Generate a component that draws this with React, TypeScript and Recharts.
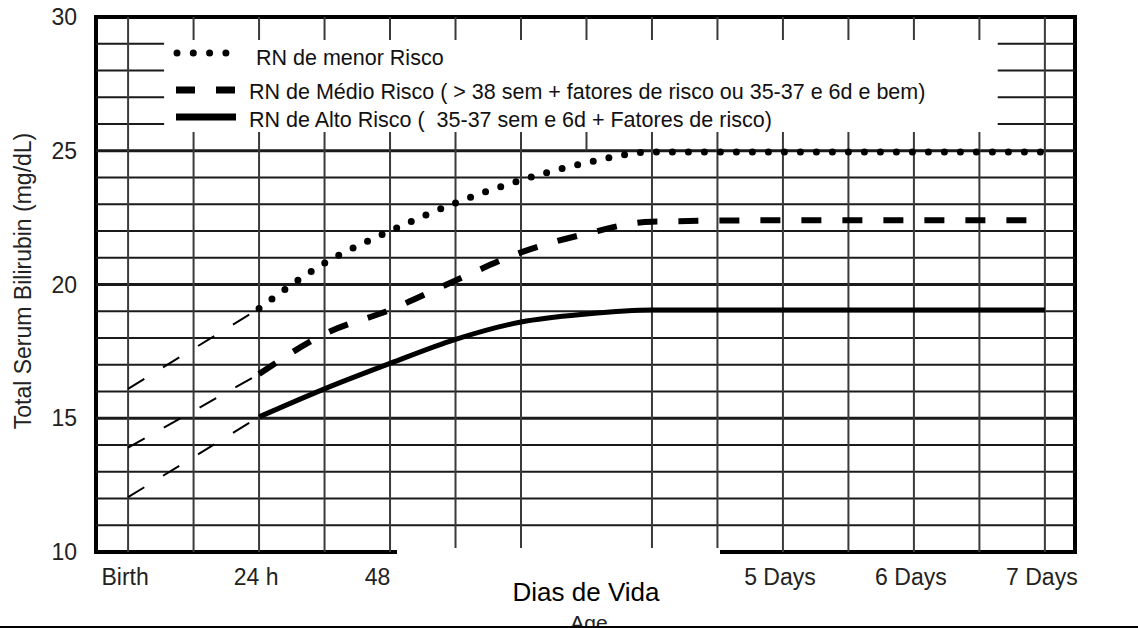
import { LineChart, Line, XAxis, YAxis, ReferenceLine, ReferenceArea } from "recharts";

const FONT = "'Liberation Sans', Arial, Helvetica, sans-serif";

const X_MIN = -0.245;
const X_MAX = 7.23;

// bilirubin curves, mg/dL by day of life
const days = [1, 1.5, 2, 2.5, 3, 3.5, 4, 5, 6, 7];
const lowRisk = [19.1, 20.8, 22.0, 23.05, 23.9, 24.55, 24.95, 24.95, 24.95, 24.95];
const mediumRisk = [16.65, 18.15, 19.05, 20.15, 21.2, 21.9, 22.35, 22.4, 22.4, 22.4];
const highRisk = [15.05, 16.1, 17.05, 17.95, 18.6, 18.9, 19.05, 19.05, 19.05, 19.05];

// thin dashed part, birth -> 24 h
const birthDays = [0, 1];
const lowBirth = [16.1, 19.1];
const mediumBirth = [13.9, 16.65];
const highBirth = [12.05, 15.05];

const xTicks = [0, 1, 2, 5, 6, 7];
const xTickLabels = ["Birth", "24 h", "48 h", "5 Days", "6 Days", "7 Days"];
const yTicks = [10, 15, 20, 25, 30];
const umolTicks = ["171", "257", "342", "428", "513"];

const legendLabels = [
  "RN de menor Risco",
  "RN de Médio Risco ( > 38 sem + fatores de risco ou 35-37 e 6d e bem)",
  "RN de Alto Risco (  35-37 sem e 6d + Fatores de risco)",
];

// grid
const gridDays = [0, 0.5, 1, 1.5, 2, 2.5, 3, 3.5, 4, 4.5, 5, 5.5, 6, 6.5, 7];
const gridValues = [11, 12, 13, 14, 15, 16, 17, 18, 19, 20, 21, 22, 23, 24, 25, 26, 27, 28, 29];
// white legend box inside the plot (data units)
const BOX_X1 = 0.275;
const BOX_X2 = 6.64;
const BOX_Y1 = 25.7;
const BOX_Y2 = 29.14;

const rows = (xs: number[], ys: number[]) => xs.map((d, i) => ({ day: d, v: ys[i] }));

const LeftTick = ({ x, y, payload }: any) => (
  <text x={x - 19} y={y + 8} textAnchor="end" fontSize={23} fontFamily={FONT} fill="#222">
    {payload.value}
  </text>
);

const RightTick = ({ x, y, payload }: any) => (
  <text x={x + 18} y={y + 8} textAnchor="start" fontSize={23} fontFamily={FONT} fill="#222">
    {umolTicks[yTicks.indexOf(payload.value)]}
  </text>
);

const BottomTick = ({ x, y, payload }: any) => (
  <text x={x - 3} y={y + 33} textAnchor="middle" fontSize={23} fontFamily={FONT} fill="#222">
    {xTickLabels[xTicks.indexOf(payload.value)]}
  </text>
);

function gridLines() {
  const out: any[] = [];
  gridValues.forEach((v) => {
    const w = v % 5 === 0 ? 3 : 2;
    const segs = v <= 25 ? [[X_MIN, X_MAX]] : [[X_MIN, BOX_X1], [BOX_X2, X_MAX]];
    segs.forEach(([a, b], i) => {
      out.push(
        <ReferenceLine
          key={`h${v}-${i}`}
          segment={[{ x: a, y: v }, { x: b, y: v }]}
          stroke="#1a1a1a"
          strokeWidth={w}
          ifOverflow="visible"
        />
      );
    });
  });
  gridDays.forEach((d) => {
    let segs: number[][];
    if (d === 0 || d === 7) segs = [[10, 30]];
    else if (d === 3.5) segs = [[25, BOX_Y1], [BOX_Y2, 30]];
    else segs = [[10, BOX_Y1], [BOX_Y2, 30]];
    segs.forEach(([a, b], i) => {
      out.push(
        <ReferenceLine
          key={`v${d}-${i}`}
          segment={[{ x: d, y: a }, { x: d, y: b }]}
          stroke="#3a3a3a"
          strokeWidth={2}
          ifOverflow="visible"
        />
      );
    });
  });
  return out;
}

export default function App() {
  return (
    <div style={{ position: "relative", width: 1138, height: 628, overflow: "hidden", background: "#fff" }}>
      <style>{`body{margin:0;background:#fff}`}</style>
      <LineChart width={1138} height={628} margin={{ top: 17, right: 3, bottom: 36, left: 36 }}>
        <XAxis
          type="number"
          dataKey="day"
          domain={[X_MIN, X_MAX]}
          allowDataOverflow
          ticks={xTicks}
          tick={BottomTick}
          tickSize={0}
          tickMargin={0}
          tickLine={false}
          axisLine={false}
          height={40}
        />
        <YAxis
          domain={[10, 30]}
          ticks={yTicks}
          tick={LeftTick}
          tickSize={0}
          tickMargin={0}
          tickLine={false}
          axisLine={false}
          width={60}
        />
        <YAxis
          yAxisId="right"
          orientation="right"
          domain={[10, 30]}
          ticks={yTicks}
          tick={RightTick}
          tickSize={0}
          tickMargin={0}
          tickLine={false}
          axisLine={false}
          width={60}
        />
        {gridLines()}

        {/* thin dashed start, birth to 24 h */}
        <Line data={rows(birthDays, lowBirth)} dataKey="v" stroke="#000" strokeWidth={2} strokeDasharray="19 22" dot={false} isAnimationActive={false} />
        <Line data={rows(birthDays, mediumBirth)} dataKey="v" stroke="#000" strokeWidth={2} strokeDasharray="19 22" dot={false} isAnimationActive={false} />
        <Line data={rows(birthDays, highBirth)} dataKey="v" stroke="#000" strokeWidth={2} strokeDasharray="19 22" dot={false} isAnimationActive={false} />

        {/* low risk - dots */}
        <Line
          data={rows(days, lowRisk)}
          dataKey="v"
          type="monotone"
          stroke="#000"
          strokeWidth={7}
          strokeDasharray="0 16"
          strokeLinecap="round"
          dot={false}
          isAnimationActive={false}
        />
        {/* medium risk - dashes */}
        <Line
          data={rows(days, mediumRisk)}
          dataKey="v"
          type="monotone"
          stroke="#000"
          strokeWidth={6}
          strokeDasharray="20 21"
          dot={false}
          isAnimationActive={false}
        />
        {/* high risk - solid */}
        <Line
          data={rows(days, highRisk)}
          dataKey="v"
          type="monotone"
          stroke="#000"
          strokeWidth={5}
          dot={false}
          isAnimationActive={false}
        />

        <ReferenceArea x1={X_MIN} x2={X_MAX} y1={10} y2={30} fill="none" stroke="#000" strokeWidth={4} ifOverflow="visible" />
      </LineChart>

      <svg
        width={1138}
        height={628}
        style={{ position: "absolute", left: 0, top: 0, pointerEvents: "none" }}
        fontFamily={FONT}
      >
        {/* legend */}
        <line x1={177} y1={53} x2={226} y2={53} stroke="#000" strokeWidth={7} strokeDasharray="0 16.3" strokeLinecap="round" />
        <line x1={176} y1={90} x2={236} y2={90} stroke="#000" strokeWidth={7} strokeDasharray="19 21" />
        <line x1={176} y1={117} x2={236} y2={117} stroke="#000" strokeWidth={7} />
        <text x={256} y={65} fontSize={21.5} fill="#111" style={{ whiteSpace: "pre" }}>{legendLabels[0]}</text>
        <text x={249} y={99} fontSize={21.5} fill="#111" style={{ whiteSpace: "pre" }}>{legendLabels[1]}</text>
        <text x={249} y={127} fontSize={21.5} fill="#111" style={{ whiteSpace: "pre" }}>{legendLabels[2]}</text>

        {/* y axis title */}
        <text transform="translate(31,281) rotate(-90)" textAnchor="middle" fontSize={23} fill="#222">
          Total Serum Bilirubin (mg/dL)
        </text>

        {/* x axis title box */}
        <rect x={397} y={548} width={323} height={78} fill="#fff" />
        <text x={586} y={601} textAnchor="middle" fontSize={26} fill="#000">Dias de Vida</text>
        <text x={589} y={630} textAnchor="middle" fontSize={21} fill="#222">Age</text>
        <rect x={0} y={626} width={1138} height={2} fill="#000" />
      </svg>
    </div>
  );
}
